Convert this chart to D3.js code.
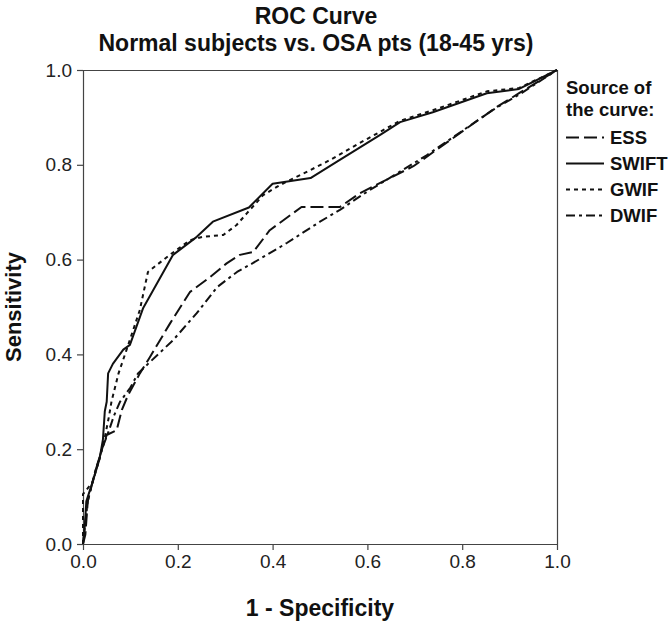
<!DOCTYPE html>
<html>
<head>
<meta charset="utf-8">
<script src="https://cdn.jsdelivr.net/npm/d3@7"></script>
<style>
  html, body { margin: 0; padding: 0; background: #fff; }
  svg { display: block; }
  text { font-family: "Liberation Sans", Arial, sans-serif; }
</style>
</head>
<body>
<svg id="chart" width="671" height="623"></svg>
<script>
// ---- Data ----
const titleLines = ["ROC Curve", "Normal subjects vs. OSA pts (18-45 yrs)"];
const xTicks = [0.0, 0.2, 0.4, 0.6, 0.8, 1.0];
const yTicks = [0.0, 0.2, 0.4, 0.6, 0.8, 1.0];
const seriesNames = ["ESS", "SWIFT", "GWIF", "DWIF"];

const essFpr  = [0, 0.005, 0.01, 0.025, 0.04, 0.05, 0.071, 0.082, 0.095, 0.12, 0.141, 0.184, 0.226, 0.268, 0.303, 0.331, 0.359, 0.394, 0.461, 0.542, 0.584, 0.697, 0.873, 0.92, 1];
const essTpr  = [0, 0.02, 0.09, 0.15, 0.20, 0.23, 0.24, 0.283, 0.314, 0.36, 0.394, 0.466, 0.532, 0.563, 0.592, 0.61, 0.616, 0.662, 0.711, 0.711, 0.74, 0.797, 0.922, 0.951, 1];

const swiftFpr = [0, 0.004, 0.007, 0.02, 0.035, 0.042, 0.046, 0.05, 0.053, 0.063, 0.085, 0.099, 0.127, 0.19, 0.24, 0.274, 0.35, 0.40, 0.48, 0.535, 0.627, 0.669, 0.738, 0.852, 0.92, 1];
const swiftTpr = [0, 0.04, 0.09, 0.13, 0.18, 0.22, 0.28, 0.30, 0.36, 0.38, 0.41, 0.42, 0.498, 0.61, 0.648, 0.68, 0.71, 0.76, 0.772, 0.806, 0.863, 0.89, 0.911, 0.951, 0.96, 1];

const gwifFpr = [0, 0, 0.02, 0.035, 0.045, 0.055, 0.06, 0.075, 0.092, 0.12, 0.137, 0.183, 0.226, 0.253, 0.296, 0.324, 0.346, 0.38, 0.415, 0.472, 0.521, 0.584, 0.669, 0.738, 0.852, 0.92, 1];
const gwifTpr = [0, 0.105, 0.13, 0.18, 0.22, 0.27, 0.30, 0.36, 0.41, 0.494, 0.574, 0.61, 0.641, 0.648, 0.652, 0.673, 0.698, 0.736, 0.757, 0.785, 0.81, 0.846, 0.893, 0.915, 0.955, 0.962, 1];

const dwifFpr = [0, 0.01, 0.025, 0.04, 0.055, 0.065, 0.078, 0.1, 0.116, 0.19, 0.24, 0.283, 0.325, 0.359, 0.43, 0.5, 0.542, 0.599, 0.725, 0.865, 0.92, 1];
const dwifTpr = [0, 0.09, 0.15, 0.20, 0.24, 0.27, 0.30, 0.33, 0.36, 0.43, 0.487, 0.542, 0.574, 0.593, 0.635, 0.68, 0.705, 0.743, 0.82, 0.916, 0.948, 1];

// ---- Build series ----
const zip = (a, b) => a.map((v, i) => [v, b[i]]);
const series = [
  { name: seriesNames[0], pts: zip(essFpr, essTpr),     dash: "13,5" },
  { name: seriesNames[1], pts: zip(swiftFpr, swiftTpr), dash: null },
  { name: seriesNames[2], pts: zip(gwifFpr, gwifTpr),   dash: "4,4" },
  { name: seriesNames[3], pts: zip(dwifFpr, dwifTpr),   dash: "9,4,3,4" }
];

// ---- Layout ----
const pLeft = 83, pRight = 557, pTop = 70, pBottom = 544;
const svg = d3.select("#chart");

const x = d3.scaleLinear().domain([0, 1]).range([pLeft, pRight]);
const y = d3.scaleLinear().domain([0, 1]).range([pBottom, pTop]);

// Title
svg.append("text").attr("x", 316).attr("y", 24).attr("text-anchor", "middle")
  .attr("font-size", 23).attr("font-weight", "bold").attr("fill", "#111").text(titleLines[0]);
svg.append("text").attr("x", 316).attr("y", 51).attr("text-anchor", "middle")
  .attr("font-size", 23).attr("font-weight", "bold").attr("fill", "#111").text(titleLines[1]);

// Frame (top and right)
svg.append("line").attr("x1", pLeft).attr("x2", pRight).attr("y1", pTop + 0.5).attr("y2", pTop + 0.5)
  .attr("stroke", "#444").attr("stroke-width", 1.2);
svg.append("line").attr("x1", pRight + 0.5).attr("x2", pRight + 0.5).attr("y1", pTop).attr("y2", pBottom)
  .attr("stroke", "#444").attr("stroke-width", 1.2);

// Axes
const xAxis = d3.axisBottom(x).tickValues(xTicks).tickFormat(d3.format(".1f")).tickSizeInner(6).tickSizeOuter(0).tickPadding(5);
const yAxis = d3.axisLeft(y).tickValues(yTicks).tickFormat(d3.format(".1f")).tickSizeInner(6).tickSizeOuter(0).tickPadding(5);

const gx = svg.append("g").attr("transform", `translate(0,${pBottom})`).call(xAxis);
const gy = svg.append("g").attr("transform", `translate(${pLeft},0)`).call(yAxis);
[gx, gy].forEach(g => {
  g.select(".domain").attr("stroke", "#444").attr("stroke-width", 1.2);
  g.selectAll(".tick line").attr("stroke", "#444").attr("stroke-width", 1.2);
  g.selectAll(".tick text").attr("font-size", 19).attr("fill", "#222")
    .attr("font-family", "'Liberation Sans', Arial, sans-serif");
});

// Axis titles
svg.append("text").attr("x", 320).attr("y", 616).attr("text-anchor", "middle")
  .attr("font-size", 23).attr("font-weight", "bold").attr("fill", "#111").text("1 - Specificity");
svg.append("text").attr("transform", `translate(21,${(pTop + pBottom) / 2}) rotate(-90)`)
  .attr("text-anchor", "middle").attr("font-size", 22).attr("font-weight", "bold").attr("fill", "#111")
  .text("Sensitivity");

// Curves
const line = d3.line().x(d => x(d[0])).y(d => y(d[1]));
svg.append("g").selectAll("path").data(series).join("path")
  .attr("d", d => line(d.pts))
  .attr("fill", "none").attr("stroke", "#111").attr("stroke-width", 2)
  .attr("stroke-linejoin", "round")
  .attr("stroke-dasharray", d => d.dash);

// Legend
const lg = svg.append("g");
lg.append("text").attr("x", 566).attr("y", 94).attr("font-size", 18.5).attr("font-weight", "bold").attr("fill", "#111").text("Source of");
lg.append("text").attr("x", 566).attr("y", 116).attr("font-size", 18.5).attr("font-weight", "bold").attr("fill", "#111").text("the curve:");
const rows = lg.selectAll("g.row").data(series).join("g").attr("class", "row")
  .attr("transform", (d, i) => `translate(0,${144 + i * 26})`);
rows.append("line").attr("x1", 566).attr("x2", 604).attr("y1", -6.5).attr("y2", -6.5)
  .attr("stroke", "#111").attr("stroke-width", 2).attr("stroke-dasharray", d => d.dash);
rows.append("text").attr("x", 610).attr("y", 0).attr("font-size", 18.5).attr("font-weight", "bold")
  .attr("fill", "#111").text(d => d.name);
</script>
</body>
</html>
